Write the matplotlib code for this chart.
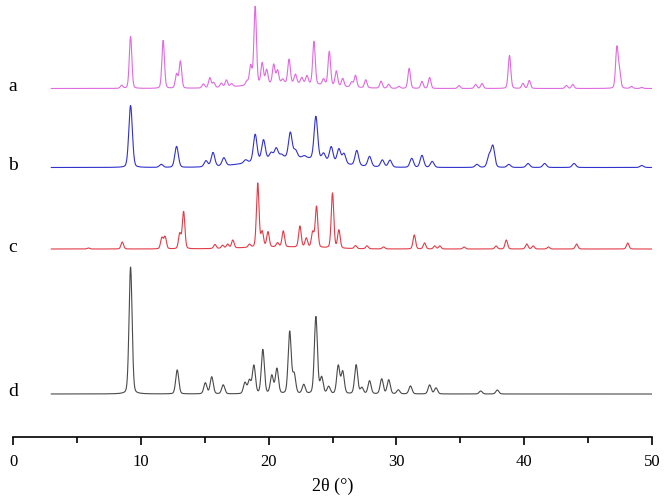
"""Stacked XRD patterns a-d, redrawn from peak lists."""

import numpy as np
import matplotlib
matplotlib.use("Agg")
import matplotlib.pyplot as plt

plt.rcParams["font.family"] = ["Liberation Serif", "DejaVu Serif"]

# peak positions (2theta, deg) and heights (arbitrary units, offset stack)
A_POS = [8.5, 9.2, 11.75, 12.8, 13.1, 14.9, 15.4, 15.7, 16.3, 16.7, 17.1, 18.3, 18.6,
         18.95, 19.5, 19.85, 20.4, 20.7, 21.1, 21.6, 22.1, 22.6, 23.0, 23.55, 24.3,
         24.75, 25.3, 25.8, 26.5, 26.8, 27.6, 28.8, 29.4, 30.2, 31.0, 32.0, 32.6,
         34.9, 36.2, 36.7, 38.85, 39.9, 40.4, 43.3, 43.8, 47.25, 47.45, 48.4, 49.2]
A_HGT = [3, 52, 48, 14, 27, 4, 10, 5, 4, 7, 3, 4, 19,
         78, 21, 14, 19, 13, 4, 24, 9, 6, 8, 43, 6,
         34, 15, 8, 5, 12, 8, 7, 4, 2, 20, 7, 11,
         3, 4, 5, 33, 5, 8, 3, 4, 40, 16, 2, 1]

B_POS = [9.2, 11.6, 12.8, 15.1, 15.65, 16.5, 18.2, 18.95, 19.6, 20.2, 20.6, 21.0,
         21.7, 22.1, 22.8, 23.7, 24.3, 24.9, 25.5, 25.9, 26.9, 27.9, 28.9, 29.5,
         31.2, 32.0, 32.8, 36.3, 37.25, 37.55, 38.8, 40.3, 41.6, 43.9, 49.2]
B_HGT = [62, 3, 21, 6, 14, 8, 3, 27, 20, 6, 10, 3,
         25, 7, 2, 43, 7, 15, 14, 10, 15, 10, 7, 7,
         9, 12, 6, 3, 11, 21, 3, 4, 4, 4, 2]

C_POS = [5.9, 8.55, 11.65, 11.9, 13.05, 13.35, 15.8, 16.4, 16.8, 17.2, 18.5, 19.15,
         19.5, 19.95, 20.7, 21.15, 22.45, 22.95, 23.45, 23.75, 25.0, 25.5, 26.8, 27.7,
         29.0, 31.4, 32.2, 33.0, 33.4, 35.3, 37.8, 38.6, 40.2, 40.7, 41.9, 44.1, 48.1]
C_HGT = [1, 7, 11, 12, 15, 37, 4, 3, 4, 8, 3, 64,
         15, 15, 4, 16, 21, 9, 15, 41, 55, 18, 3, 3,
         2, 14, 6, 3, 3, 2, 3, 9, 5, 3, 2, 5, 6]

D_POS = [9.2, 12.85, 15.05, 15.55, 16.45, 18.15, 18.5, 18.85, 19.55, 20.25, 20.65,
         21.65, 22.0, 22.75, 23.7, 24.15, 24.7, 25.45, 25.8, 26.85, 27.3, 27.9, 28.85,
         29.4, 30.15, 31.1, 32.6, 33.1, 36.6, 37.9]
D_HGT = [127, 24, 11, 17, 9, 11, 13, 28, 44, 18, 25,
         62, 19, 9, 77, 16, 7, 28, 22, 29, 6, 13, 15,
         14, 4, 8, 9, 6, 3, 4]

# broad amorphous humps (centre, height, sigma)
A_HUMP = (21.5, 5, 3.0)
B_HUMP = (21.8, 10, 2.8)
C_HUMP = (21.0, 2, 3.0)
D_HUMP = (21.0, 0, 3.0)

LABELS = ["a", "b", "c", "d"]
OFFSETS = [348.5, 269.5, 188, 43]
COLORS = ["#e06ae0", "#3232cc", "#e23c48", "#4a4a4a"]
WIDTHS = [0.10, 0.14, 0.10, 0.12]


def pattern(x, pos, hgt, hump, sigma):
    y = np.zeros_like(x)
    for p, h in zip(pos, hgt):
        g = np.exp(-0.5 * ((x - p) / sigma) ** 2)
        lz = 1.0 / (1.0 + ((x - p) / (1.18 * sigma)) ** 2)
        y += h * (0.8 * g + 0.2 * lz)
    c, h, s = hump
    y += h * np.exp(-0.5 * ((x - c) / s) ** 2)
    return y


def main():
    fig = plt.figure(figsize=(6.66, 5.04), dpi=100)
    ax = fig.add_axes([13 / 666, (504 - 437) / 504, 639 / 666, 437 / 504])

    x = np.linspace(3, 50, 4000)
    data = [(A_POS, A_HGT, A_HUMP), (B_POS, B_HGT, B_HUMP),
            (C_POS, C_HGT, C_HUMP), (D_POS, D_HGT, D_HUMP)]
    for (pos, hgt, hump), off, col, w, lab in zip(data, OFFSETS, COLORS, WIDTHS, LABELS):
        y = pattern(x, pos, hgt, hump, w) + off
        ax.plot(x, y, color=col, lw=0.8)
        ax.text(0, off + 2, lab, ha="center", va="center", fontsize=14, clip_on=False)

    ax.set_xlim(0, 50)
    ax.set_ylim(0, 437)
    for s in ["left", "right", "top"]:
        ax.spines[s].set_visible(False)
    ax.spines["bottom"].set_linewidth(1.2)
    ax.set_yticks([])
    ax.set_xticks(range(0, 51, 10))
    ax.set_xticks(range(5, 50, 10), minor=True)
    ax.tick_params(axis="x", which="major", length=6, width=1.2, labelsize=12, pad=6)
    ax.tick_params(axis="x", which="minor", length=4, width=1.2)
    ax.set_xlabel("2θ (°)", fontsize=13, labelpad=6)

    fig.savefig("out.png", dpi=100)


if __name__ == "__main__":
    main()
